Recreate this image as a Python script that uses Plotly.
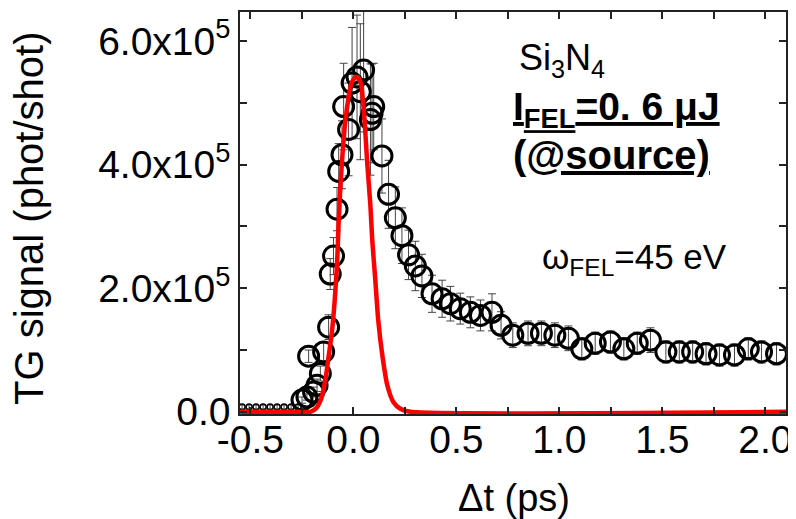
import plotly.graph_objects as go

# ---- data, y in photons/shot ----
base_t = [-0.540, -0.506, -0.472, -0.438, -0.404, -0.370, -0.336, -0.302, -0.268]
base_s = [8000, 8000, 8000, 8000, 8000, 8000, 8000, 8000, 8000]
base_e = [3000, 3000, 3000, 3000, 3000, 3000, 3000, 3000, 3000]

delay_ps = [-0.249, -0.225, -0.217, -0.193, -0.176, -0.160, -0.144, -0.120, -0.112,
            -0.096, -0.079, -0.071, -0.055, -0.047, -0.023, -0.006, 0.018, 0.034,
            0.050, 0.083, 0.091, 0.099, 0.139, 0.171, 0.204, 0.236, 0.268, 0.301,
            0.333, 0.382, 0.431, 0.471, 0.519, 0.568, 0.617, 0.673, 0.717, 0.774,
            0.848, 0.913, 0.978, 1.044, 1.109, 1.174, 1.248, 1.313, 1.378, 1.442,
            1.517, 1.582, 1.647, 1.712, 1.777, 1.850, 1.917, 1.981, 2.054]
tg_signal = [19000, 24000, 90000, 32000, 43000, 62000, 97000, 137000, 223000,
             252000, 328000, 389000, 416000, 494000, 457000, 532000, 542000, 518000,
             553000, 473000, 483000, 494000, 414000, 352000, 314000, 285000, 254000, 236000,
             220000, 191000, 183000, 175000, 167000, 161000, 156000, 161000, 140000, 124000,
             127000, 127000, 124000, 119000, 102000, 111000, 113000, 102000, 111000, 116000,
             97000, 97000, 97000, 94000, 92000, 92000, 102000, 97000, 94000]
tg_error = [5000, 5000, 10000, 8000, 10000, 12000, 15000, 20000, 25000,
            30000, 35000, 45000, 55000, 70000, 75000, 90000, 100000, 110000,
            100000, 90000, 80000, 70000, 60000, 55000, 50000, 45000, 40000, 40000,
            35000, 30000, 30000, 28000, 25000, 25000, 25000, 30000, 22000, 20000,
            20000, 20000, 20000, 20000, 18000, 18000, 18000, 18000, 18000, 20000,
            18000, 18000, 18000, 18000, 18000, 18000, 18000, 18000, 18000]

fit_t = [-0.549, -0.257, -0.209, -0.180, -0.155, -0.136, -0.121, -0.103, -0.079,
         -0.071, -0.063, -0.055, -0.039, -0.024, -0.010, 0.010, 0.024, 0.039,
         0.045, 0.055, 0.067, 0.083, 0.092, 0.107, 0.121, 0.141, 0.165, 0.194,
         0.228, 0.277, 2.1]
fit_s = [0, 0, 0, 6000, 22000, 51000, 87000, 132000, 240000,
         309000, 362000, 405000, 470000, 507000, 531000, 542000, 541000, 528000,
         510000, 470000, 405000, 333000, 277000, 212000, 148000, 91000, 43000, 16000,
         5000, 0, 0]

y_ticks = [0, 200000, 400000, 600000]
y_labels = ["0.0", "2.0x10<sup>5</sup>", "4.0x10<sup>5</sup>", "6.0x10<sup>5</sup>"]
x_ticks = [-0.5, 0.0, 0.5, 1.0, 1.5, 2.0]
x_labels = ["-0.5", "0.0", "0.5", "1.0", "1.5", "2.0"]

font_family = "Liberation Sans, Arial, sans-serif"

# The page body has an 8px margin; plot area lands at page x 240..786, y 10..414
L, T, PW, PH = 232, 2, 546, 404
OFF = 8


def px_x(x):
    return (x - OFF - L) / PW


def px_y(y):
    return (T + PH - (y - OFF)) / PH


fig = go.Figure()

fig.add_trace(go.Scatter(
    x=base_t, y=base_s, mode="markers",
    marker=dict(symbol="circle-open", size=6, color="black", line=dict(width=1.5)),
    error_y=dict(type="data", array=base_e, color="#444", thickness=1, width=2),
    showlegend=False))

fig.add_trace(go.Scatter(
    x=delay_ps, y=tg_signal, mode="markers",
    marker=dict(symbol="circle-open", size=20, color="black", line=dict(width=3)),
    error_y=dict(type="data", array=tg_error, color="#444", thickness=1, width=4),
    showlegend=False))

fig.add_trace(go.Scatter(
    x=fit_t, y=fit_s, mode="lines",
    line=dict(color="#ff0000", width=4.5, shape="spline", smoothing=0.6),
    showlegend=False))

axis_common = dict(ticks="inside", ticklen=7, tickwidth=1.5, tickcolor="#222",
                   showline=True, linecolor="#222", linewidth=1.5, mirror="ticks",
                   showgrid=False, zeroline=False, tickfont=dict(size=39))

fig.update_layout(
    width=788, height=511,
    margin=dict(l=L, r=788 - L - PW, t=T, b=511 - T - PH),
    paper_bgcolor="white", plot_bgcolor="white",
    font=dict(family=font_family, color="black", size=38),
    xaxis=dict(range=[-0.55, 2.1], tickvals=x_ticks, ticktext=x_labels,
               ticklabelstandoff=-10,
               minor=dict(tickvals=[-0.25, 0.25, 0.75, 1.25, 1.75], ticks="inside",
                          ticklen=7, tickwidth=1.5, tickcolor="#222"),
               **axis_common),
    yaxis=dict(range=[-3500, 647000], tickvals=y_ticks, ticktext=y_labels,
               minor=dict(tickvals=[100000, 300000, 500000], ticks="inside",
                          ticklen=7, tickwidth=1.5, tickcolor="#222"),
               **axis_common),
    annotations=[
        dict(text="Δt (ps)", xref="paper", yref="paper", x=px_x(514), y=px_y(498),
             xanchor="center", yanchor="middle", showarrow=False, font=dict(size=38)),
        dict(text="TG signal (phot/shot)", xref="paper", yref="paper", x=px_x(29), y=px_y(217),
             xanchor="center", yanchor="middle", textangle=-90, showarrow=False,
             font=dict(size=40)),
        dict(text="Si<sub>3</sub>N<sub>4</sub>", xref="paper", yref="paper",
             x=px_x(517), y=px_y(58), xanchor="left", yanchor="middle",
             showarrow=False, font=dict(size=36)),
        dict(text="<b><u>I<sub>FEL</sub>=0. 6 μJ</u></b>", xref="paper", yref="paper",
             x=px_x(511), y=px_y(108), xanchor="left", yanchor="middle",
             showarrow=False, font=dict(size=39)),
        dict(text="<b><u>(@source)</u></b>", xref="paper", yref="paper",
             x=px_x(511), y=px_y(154), xanchor="left", yanchor="middle",
             showarrow=False, font=dict(size=40)),
        dict(text="ω<sub>FEL</sub>=45 eV", xref="paper", yref="paper",
             x=px_x(540), y=px_y(258), xanchor="left", yanchor="middle",
             showarrow=False, font=dict(size=35)),
    ],
)

fig.write_html("out.html")
